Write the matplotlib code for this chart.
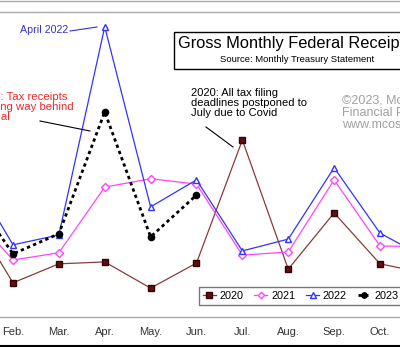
import matplotlib
matplotlib.use("Agg")
import matplotlib.pyplot as plt
from matplotlib.patches import Rectangle
from matplotlib.lines import Line2D

plt.rcParams['font.family'] = ['Liberation Sans', 'DejaVu Sans']

# Gross monthly federal receipts, billions of dollars
months = ['Jan.', 'Feb.', 'Mar.', 'Apr.', 'May.', 'Jun.', 'Jul.', 'Aug.', 'Sep.', 'Oct.', 'Nov.', 'Dec.']
rec_2020 = [390, 190, 240, 245, 176, 242, 566, 226, 374, 240, 215]
rec_2021 = [385, 250, 269, 442, 464, 450, 263, 271, 461, 287, 285]
rec_2022 = [495, 290, 316, 864, 390, 461, 274, 305, 493, 321, 255]
rec_2023 = [442, 266, 319, 640, 311, 421]

W, H = 400, 347


def px(x, y):
    # pixel position -> figure fraction
    return x / W, 1 - y / H


fig = plt.figure(figsize=(4, 3.47), dpi=100)
ax = fig.add_axes([0, 1 - 317 / H, 1, (317 - 12) / H])

ax.plot(range(1, len(rec_2020) + 1), rec_2020, color='#8b3a3a', lw=0.9, marker='s', ms=4.5,
        mfc='#5c1010', mec='#3a0000', label='2020')
ax.plot(range(1, len(rec_2021) + 1), rec_2021, color='#ff44ff', lw=0.9, marker='D', ms=3.8,
        mfc='white', mec='#ff44ff', label='2021')
ax.plot(range(1, len(rec_2022) + 1), rec_2022, color='#3333ff', lw=0.9, marker='^', ms=5,
        mfc='white', mec='#3333ff', label='2022')
ax.plot(range(1, len(rec_2023) + 1), rec_2023, color='black', lw=2, ls=(0, (1.2, 1.2)),
        marker='o', ms=4.5, mfc='black', mec='black', label='2023')

ax.set_xticks(range(1, 13))
ax.set_xticklabels(months, fontsize=8, color='#333333')
ax.set_xlim(1.717, 10.436)
ax.set_ylim(100, 903)
ax.tick_params(axis='x', length=0, pad=7)
ax.set_yticks([])
for s in ['left', 'right']:
    ax.spines[s].set_visible(False)
for s in ['top', 'bottom']:
    ax.spines[s].set_color('#aaaaaa')
    ax.spines[s].set_linewidth(1)

leg = ax.legend(loc='upper left', bbox_to_anchor=px(199, 287), bbox_transform=fig.transFigure,
                ncol=4, fontsize=7.8, frameon=True, fancybox=False, handlelength=1.2,
                handletextpad=0.35, columnspacing=1.0, borderpad=0.35, borderaxespad=0,
                markerscale=0.85)
leg.get_frame().set_edgecolor('#555555')
leg.get_frame().set_linewidth(1)

# title box
x0, y0 = px(174, 69)
x1, y1 = px(420, 32)
fig.patches.append(Rectangle((x0, y0), x1 - x0, y1 - y0, transform=fig.transFigure,
                             facecolor='white', edgecolor='black', lw=1, zorder=5))
fig.text(*px(178, 48), 'Gross Monthly Federal Receipts', fontsize=11.8, va='baseline', zorder=6)
fig.text(*px(297, 59), 'Source: Monthly Treasury Statement', fontsize=6.8, ha='center', va='center', zorder=6)

# top border and bottom frame
fig.add_artist(Line2D([0, 1], [1 - 0.8 / H, 1 - 0.8 / H], color='#aaaaaa', lw=1, transform=fig.transFigure))
fig.add_artist(Line2D([0, 1], [1 - 346 / H, 1 - 346 / H], color='black', lw=1.5, transform=fig.transFigure))

# annotations
fig.text(*px(20, 30), 'April 2022', fontsize=7.7, color='#3333cc', va='center')
fig.add_artist(Line2D([70 / W, 97 / W], [1 - 31 / H, 1 - 27 / H], color='#3333cc', lw=0.8))

fig.text(*px(-25, 107), '2023: Tax receipts\nrunning way behind\nnormal', fontsize=8.2,
         color='#ee2a2a', va='center', linespacing=1.0)
fig.add_artist(Line2D([40 / W, 90 / W], [1 - 121 / H, 1 - 131 / H], color='black', lw=0.8))

fig.text(*px(191, 103), '2020: All tax filing\ndeadlines postponed to\nJuly due to Covid', fontsize=8,
         color='black', va='center', linespacing=1.0)
fig.add_artist(Line2D([206 / W, 233 / W], [1 - 127 / H, 1 - 147 / H], color='black', lw=0.8))

fig.text(*px(342, 113), '\u00a92023, McClellan\nFinancial Publications\nwww.mcoscillator.com', fontsize=9,
         color='#a0a0a0', va='center', linespacing=1.0)

fig.savefig('out.png', dpi=100)
